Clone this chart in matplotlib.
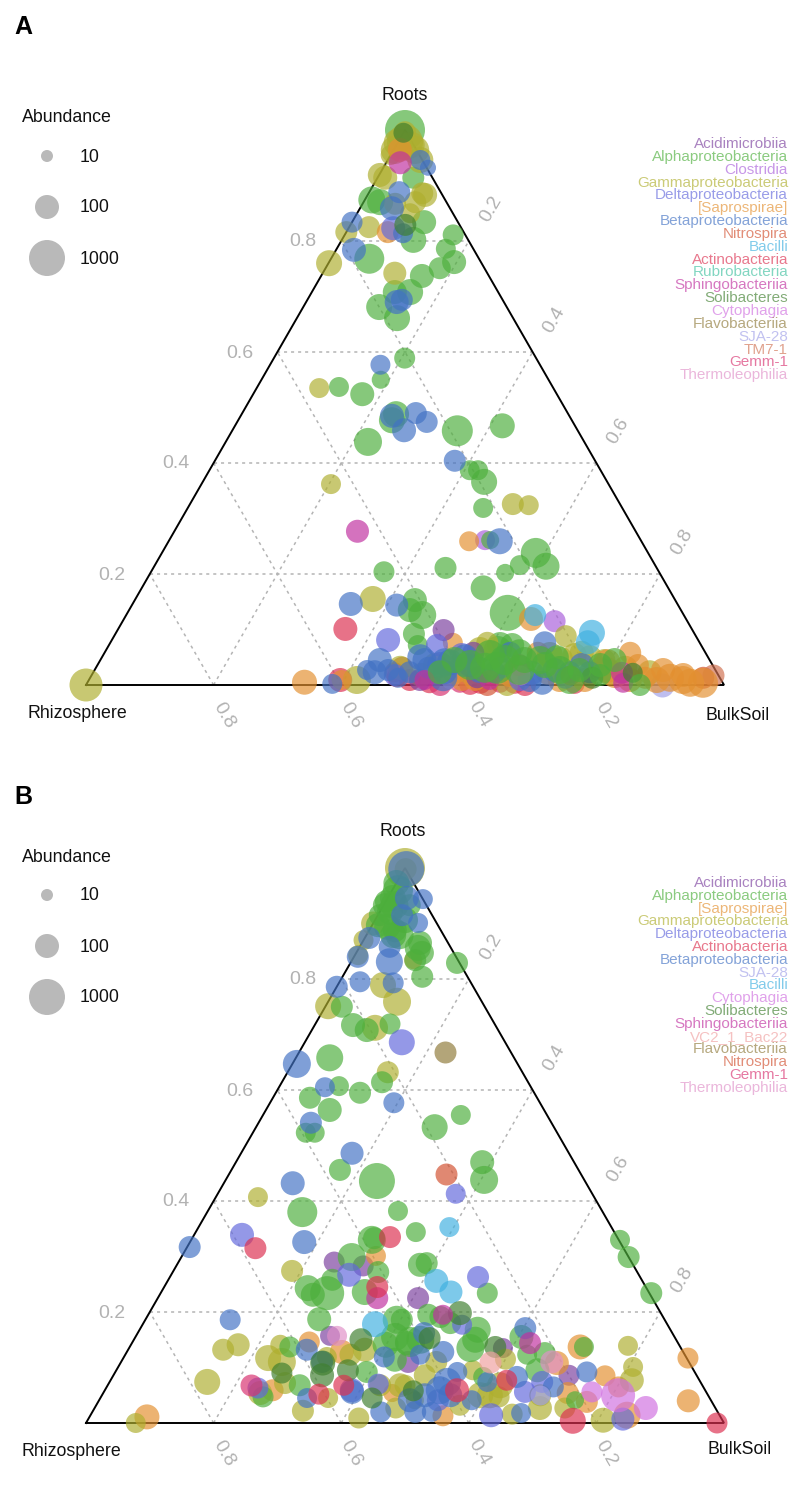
import math
import matplotlib
matplotlib.use("Agg")
import matplotlib.pyplot as plt

plt.rcParams['font.family'] = ['Liberation Sans', 'DejaVu Sans']

TICKS = [0.2, 0.4, 0.6, 0.8]
SIZE_LEVELS = [10, 100, 1000]

COLORS = {
    "Acidimicrobiia": "#7B3F9E", "Alphaproteobacteria": "#4DAF3C", "Clostridia": "#A95FDB",
    "Gammaproteobacteria": "#AFAF2F", "Deltaproteobacteria": "#6268DC", "[Saprospirae]": "#E39030",
    "Betaproteobacteria": "#4272C4", "Nitrospira": "#D2502F", "Bacilli": "#40B0E0",
    "Actinobacteria": "#DC3050", "Rubrobacteria": "#40C0A0", "Sphingobacteriia": "#C030A0",
    "Solibacteres": "#3F7F2F", "Cytophagia": "#D070E0", "Flavobacteriia": "#8F7A3A",
    "SJA-28": "#A0A0E8", "TM7-1": "#D07050", "Gemm-1": "#D8306F", "Thermoleophilia": "#E090C8",
    "VC2_1_Bac22": "#F0A0A0",
}

# ---------- Panel A: roots fraction, bulk-soil fraction, abundance ----------
A_acidi_r = [.099, .058, .014, .009, .036]
A_acidi_b = [.511, .578, .606, .519, .584]
A_acidi_n = [68, 68, 68, 68, 100]

A_alpha_r = [1.0, .874, .870, .834, .802, .811, .786, .762, .751, .737, .708, .708, .681, .661, .768, .914, .589, .550, .537, .524, .488, .477, .438, .458, .467, .387, .387, .366, .319, .261, .238, .214, .216, .202, .175, .211, .204, .153, .126, .135, .092, .072, .130, .072, .072, .031, .031, .050, .009, .018, 0.0,
             .023, .045, .036, .054, .045, .045, .036, .027, .027, .036, .045, .027, .063, .059, .045]
A_alpha_b = [0.0, .011, .026, .113, .112, .170, .171, .196, .179, .158, .154, .130, .119, .157, .060, .056, .205, .187, .128, .171, .242, .241, .223, .353, .419, .408, .421, .441, .463, .503, .586, .614, .572, .556, .535, .458, .365, .439, .464, .440, .468, .484, .596, .613, .632, .629, .610, .713, .754, .797, .868,
             .543, .555, .584, .606, .634, .665, .701, .729, .760, .788, .806, .666, .614, .650, .689]
A_alpha_n = [2154, 178, 147, 100, 147, 56, 46, 100, 68, 100, 147, 100, 147, 147, 316, 68, 56, 32, 46, 100, 147, 147, 215, 383, 121, 46, 46, 147, 46, 32, 316, 178, 46, 32, 121, 68, 56, 100, 215, 100, 68, 46, 1000, 147, 100, 464, 316, 100, 215, 68, 68,
             100, 147, 316, 316, 316, 147, 147, 215, 100, 100, 100, 316, 215, 147, 215]

A_clost_r = [.115, .261]
A_clost_b = [.677, .495]
A_clost_n = [68, 46]

A_gamma_r = [.760, .742, .816, .825, .919, .955, .978, .977, .973, .996, .867, .886, .870, .850, .535, .362, .326, .324, .155, 0.0, .009, .018, .076, 0.0, .047, .050, .088, .045, .031,
             .914, .964, .964, .946, .883, .031, .036, .023, .023, .054, .054, .023, .031, .023, .058, .063]
A_gamma_b = [.001, .113, 0.0, .031, .001, 0.0, .011, 0.0, .024, .002, .051, .084, .081, .083, .098, .203, .506, .532, .372, 0.0, .420, .516, .591, .660, .721, .765, .708, .790, .790,
             .012, .002, .034, .051, .090, .477, .529, .590, .660, .700, .739, .809, .830, .872, .748, .586]
A_gamma_n = [147, 83, 68, 68, 100, 46, 1000, 215, 147, 68, 68, 68, 68, 46, 46, 46, 68, 46, 147, 562, 215, 100, 68, 68, 100, 100, 68, 68, 68,
             100, 215, 215, 147, 100, 100, 100, 100, 100, 147, 100, 147, 100, 100, 100, 147]

A_delta_r = [.823, .081, .072, .054, .022, .009, .018, .036, .031, .013]
A_delta_b = [.070, .433, .514, .562, .688, .676, .475, .537, .634, .745]
A_delta_n = [100, 100, 68, 100, 100, 68, 68, 147, 68, 68]

A_sapro_r = [.816, .964, .259, .119, .076, .058, .022, .009, .005, .009, .027, .058, .036, .009, .027, .009, .018, .004, .013,
             .023, .009, .018, .009, .009, .018, .009, .013, .004, .041]
A_sapro_b = [.065, .010, .471, .638, .537, .679, .713, .585, .340, .396, .803, .824, .847, .890, .891, .931, .927, .965, .870,
             .566, .605, .656, .738, .777, .820, .848, .909, .945, .797]
A_sapro_n = [68, 100, 46, 100, 46, 68, 100, 68, 121, 46, 147, 68, 68, 147, 100, 215, 100, 316, 68,
             100, 68, 100, 100, 100, 147, 100, 215, 215, 147]

A_beta_r = [.834, .784, .888, .690, .694, .932, .946, .814, .859, .577, .485, .490, .459, .474, .404, .259, .146, .144, .076, .058, .036, .023, .014, .004, .013, .002, .027, .023, .027, .031, .036, .009,
            .023, .045, .041, .027, .023, .027, .023, .023, .050, .041, .050, .045]
A_beta_b = [0.0, .028, .047, .142, .148, .070, .051, .090, .050, .173, .237, .272, .269, .297, .376, .519, .342, .415, .681, .636, .759, .551, .553, .713, .483, .385, .427, .441, .460, .521, .576, .691,
            .496, .508, .550, .604, .629, .721, .747, .778, .499, .542, .569, .438]
A_beta_n = [56, 100, 68, 100, 68, 22, 46, 46, 100, 46, 100, 68, 100, 68, 68, 147, 100, 83, 83, 68, 100, 100, 215, 100, 46, 46, 46, 100, 68, 68, 100, 100,
            68, 100, 147, 147, 68, 100, 68, 68, 147, 215, 147, 100]

A_nitro_r = [.013, .031, 0.0, .023]
A_nitro_b = [.961, .480, .629, .472]
A_nitro_n = [68, 68, 68, 46]

A_bacilli_r = [.094, .077, .126]
A_bacilli_b = [.746, .748, .641]
A_bacilli_n = [147, 100, 68]

A_actino_r = [.101, .009, 0.0, .014, .004, .002, .009, .005, .002, .004]
A_actino_b = [.356, .394, .688, .480, .616, .765, .503, .536, .601, .670]
A_actino_n = [100, 100, 68, 46, 68, 46, 68, 68, 68, 68]

A_rubro_r = [.027]
A_rubro_b = [.654]
A_rubro_n = [46]

A_sphingo_r = [.941, .277, .036, .022, .004, .009, .009]
A_sphingo_b = [.022, .287, .661, .829, .840, .526, .628]
A_sphingo_n = [83, 83, 68, 68, 46, 46, 46]

A_soli_r = [.995, .829, .013, .022]
A_soli_b = [0.0, .086, .787, .846]
A_soli_n = [46, 68, 68, 46]

A_cyto_r = [.018]
A_cyto_b = [.671]
A_cyto_n = [46]

A_flavo_r = [.018]
A_flavo_b = [.750]
A_flavo_n = [46]

A_sja_r = [0.0]
A_sja_b = [.903]
A_sja_n = [100]

A_tm7_r = [.018]
A_tm7_b = [.974]
A_tm7_n = [68]

A_gemm_r = [0.0, .004, .004]
A_gemm_b = [.555, .647, .584]
A_gemm_n = [68, 46, 46]

A_thermo_r = [.009]
A_thermo_b = [.566]
A_thermo_n = [32]

# ---------- Panel B ----------
B_acidi_r = [.290, .283, .225, .157, .110, .135, .086]
B_acidi_b = [.244, .293, .408, .304, .450, .586, .714]
B_acidi_n = [56, 56, 68, 46, 68, 46, 56]

B_alpha_r = [.973, .940, .946, .921, .915, .894, .888, .879, .865, .847, .856, .829, .804, .750, .717, .708, .719, .658, .614, .607, .586, .595, .564, .523, .523, .555, .533, .456, .470, .438, .436, .380, .382, .333, .344, .285, .288, .234, .243, .234, .231, .258, .299, .330, .272, .236, .187, .186, .155, .144, .195, .186, .191, .180, .146, .168, .150, .135, .155, .123, .126, .137, .330, .299, .234, .095, .083, .041, .137, .047, .068, .092,
             .960, .933, .906, .933, .879, .897, .933, .834, .114, .150, .141]
B_alpha_b = [0.0, 0.0, .008, .016, .003, .025, .040, .042, .091, .103, .092, .167, .125, .026, .060, .086, .117, .053, .157, .093, .058, .132, .100, .083, .097, .310, .280, .170, .386, .405, .238, .149, .298, .285, .345, .381, .390, .512, .226, .261, .240, .257, .267, .283, .322, .319, .272, .394, .407, .431, .439, .402, .460, .481, .435, .530, .535, .535, .605, .630, .656, .712, .672, .701, .769, .660, .581, .746, .251, .254, .301, .394,
             .009, .017, .047, .002, .052, .009, .041, .099, .427, .449, .399]
B_alpha_n = [147, 68, 147, 147, 68, 147, 100, 147, 100, 100, 147, 68, 68, 68, 100, 100, 56, 178, 68, 46, 68, 68, 100, 46, 46, 46, 147, 68, 100, 215, 1000, 316, 46, 68, 46, 100, 68, 56, 147, 681, 100, 68, 215, 215, 68, 147, 100, 215, 215, 100, 68, 68, 68, 68, 316, 147, 147, 215, 100, 46, 68, 46, 46, 68, 68, 100, 46, 32, 56, 56, 68, 68,
             316, 215, 147, 100, 215, 100, 68, 68, 100, 215, 147]

B_sapro_r = [.834, .301, .011, .146, .128, .059, .054, .013, .137, .117, .040, .085, .108, .038, .054, .065, .014]
B_sapro_b = [.096, .304, .090, .277, .337, .263, .453, .553, .706, .885, .924, .771, .684, .766, .728, .802, .841]
B_sapro_n = [32, 46, 121, 56, 100, 68, 32, 56, 121, 56, 83, 56, 100, 68, 68, 56, 178]

B_gamma_r = [1.0, .998, .751, .843, .789, .759, .712, .632, .900, .870, .407, .274, .132, .141, .074, 0.0, .117, .141, .110, .119, .054, .072, .022, .045, .009, .027, .068, .086, .110, .032, .095, .047, .115, .027, .016, .027, .005, .139, .101, .077, .041,
             .068, .068, .132, .123, .068, .050, .050, .050]
B_gamma_b = [0.0, .002, .004, .005, .071, .108, .097, .157, 0.0, 0.0, .066, .186, .149, .168, .153, .078, .227, .234, .252, .318, .246, .276, .329, .357, .423, .472, .466, .488, .494, .570, .559, .624, .600, .698, .660, .737, .808, .780, .807, .817, .495,
             .458, .427, .371, .353, .615, .608, .593, .687]
B_gamma_n = [2154, 68, 147, 46, 147, 215, 147, 68, 100, 46, 46, 68, 68, 83, 147, 46, 147, 46, 215, 46, 100, 68, 68, 46, 56, 56, 56, 68, 68, 56, 46, 56, 56, 100, 56, 56, 121, 46, 46, 100, 32,
             100, 68, 100, 68, 147, 147, 147, 68]

B_delta_r = [.686, .413, .339, .267, .063, .059, .070, .177, .263, .041, .014, .056, .074, .007]
B_delta_b = [.152, .373, .075, .279, .238, .387, .423, .501, .483, .531, .628, .660, .678, .838]
B_delta_n = [147, 46, 100, 100, 56, 100, 56, 46, 68, 68, 100, 68, 68, 83]

B_actino_r = [.335, .315, .245, .052, .068, .077, .059, .004, 0.0]
B_actino_b = [.309, .108, .334, .339, .370, .621, .552, .761, .989]
B_actino_n = [68, 68, 68, 56, 56, 56, 100, 147, 56]

B_beta_r = [.998, .946, .944, .915, .901, .874, .858, .840, .831, .786, .795, .793, .647, .605, .577, .541, .486, .432, .317, .326, .186, .132, .110, .045, .056, .119, .020, .020, .162, .171, .128, .123, .074, .092, .020, .041, .074, .083, .018, .065, .092,
            .059, .050, .041, .050]
B_beta_b = [.003, .030, .056, .038, .070, .007, .047, .006, .060, 0.0, .032, .085, .007, .072, .194, .082, .174, .108, .004, .179, .133, .280, .315, .324, .389, .408, .452, .506, .449, .603, .496, .462, .529, .536, .532, .584, .592, .634, .673, .700, .739,
            .525, .506, .487, .546]
B_beta_n = [1000, 100, 46, 68, 46, 68, 68, 68, 178, 68, 56, 56, 215, 46, 56, 68, 83, 100, 68, 100, 56, 68, 68, 46, 100, 56, 56, 68, 68, 68, 68, 46, 215, 46, 46, 46, 46, 68, 46, 56, 56,
            215, 100, 100, 100]

B_sja_r = [.050]
B_sja_b = [.687]
B_sja_n = [46]

B_bacilli_r = [.353, .178, .256, .236]
B_bacilli_b = [.393, .364, .421, .454]
B_bacilli_n = [46, 147, 100, 83]

B_cyto_r = [.056, .050, .027]
B_cyto_b = [.765, .809, .864]
B_cyto_n = [56, 681, 100]

B_soli_r = [.150, .108, .086, .095, .090, .045, .058, .153, .198, .137]
B_soli_b = [.356, .317, .327, .363, .262, .426, .484, .462, .487, .573]
B_soli_n = [83, 121, 100, 68, 56, 56, 56, 68, 100, 68]

B_sphingo_r = [.225, .195, .144]
B_sphingo_b = [.344, .462, .624]
B_sphingo_n = [68, 46, 68]

B_vc2_r = [.110]
B_vc2_b = [.578]
B_vc2_n = [68]

B_flavo_r = [.668]
B_flavo_b = [.229]
B_flavo_n = [68]

B_nitro_r = [.449]
B_nitro_b = [.340]
B_nitro_n = [68]

B_gemm_r = [.068]
B_gemm_b = [.225]
B_gemm_n = [68]

B_thermo_r = [.157, .110]
B_thermo_b = [.315, .675]
B_thermo_n = [46, 83]

# legend order of each panel
SERIES_A = [
    ("Acidimicrobiia", A_acidi_r, A_acidi_b, A_acidi_n),
    ("Alphaproteobacteria", A_alpha_r, A_alpha_b, A_alpha_n),
    ("Clostridia", A_clost_r, A_clost_b, A_clost_n),
    ("Gammaproteobacteria", A_gamma_r, A_gamma_b, A_gamma_n),
    ("Deltaproteobacteria", A_delta_r, A_delta_b, A_delta_n),
    ("[Saprospirae]", A_sapro_r, A_sapro_b, A_sapro_n),
    ("Betaproteobacteria", A_beta_r, A_beta_b, A_beta_n),
    ("Nitrospira", A_nitro_r, A_nitro_b, A_nitro_n),
    ("Bacilli", A_bacilli_r, A_bacilli_b, A_bacilli_n),
    ("Actinobacteria", A_actino_r, A_actino_b, A_actino_n),
    ("Rubrobacteria", A_rubro_r, A_rubro_b, A_rubro_n),
    ("Sphingobacteriia", A_sphingo_r, A_sphingo_b, A_sphingo_n),
    ("Solibacteres", A_soli_r, A_soli_b, A_soli_n),
    ("Cytophagia", A_cyto_r, A_cyto_b, A_cyto_n),
    ("Flavobacteriia", A_flavo_r, A_flavo_b, A_flavo_n),
    ("SJA-28", A_sja_r, A_sja_b, A_sja_n),
    ("TM7-1", A_tm7_r, A_tm7_b, A_tm7_n),
    ("Gemm-1", A_gemm_r, A_gemm_b, A_gemm_n),
    ("Thermoleophilia", A_thermo_r, A_thermo_b, A_thermo_n),
]
SERIES_B = [
    ("Acidimicrobiia", B_acidi_r, B_acidi_b, B_acidi_n),
    ("Alphaproteobacteria", B_alpha_r, B_alpha_b, B_alpha_n),
    ("[Saprospirae]", B_sapro_r, B_sapro_b, B_sapro_n),
    ("Gammaproteobacteria", B_gamma_r, B_gamma_b, B_gamma_n),
    ("Deltaproteobacteria", B_delta_r, B_delta_b, B_delta_n),
    ("Actinobacteria", B_actino_r, B_actino_b, B_actino_n),
    ("Betaproteobacteria", B_beta_r, B_beta_b, B_beta_n),
    ("SJA-28", B_sja_r, B_sja_b, B_sja_n),
    ("Bacilli", B_bacilli_r, B_bacilli_b, B_bacilli_n),
    ("Cytophagia", B_cyto_r, B_cyto_b, B_cyto_n),
    ("Solibacteres", B_soli_r, B_soli_b, B_soli_n),
    ("Sphingobacteriia", B_sphingo_r, B_sphingo_b, B_sphingo_n),
    ("VC2_1_Bac22", B_vc2_r, B_vc2_b, B_vc2_n),
    ("Flavobacteriia", B_flavo_r, B_flavo_b, B_flavo_n),
    ("Nitrospira", B_nitro_r, B_nitro_b, B_nitro_n),
    ("Gemm-1", B_gemm_r, B_gemm_b, B_gemm_n),
    ("Thermoleophilia", B_thermo_r, B_thermo_b, B_thermo_n),
]

# paint order, bottom to top
DRAW_A = ["Actinobacteria", "Gemm-1", "Nitrospira", "Thermoleophilia", "Rubrobacteria", "TM7-1", "SJA-28",
          "Clostridia", "Alphaproteobacteria", "Gammaproteobacteria", "[Saprospirae]", "Acidimicrobiia",
          "Deltaproteobacteria", "Betaproteobacteria", "Sphingobacteriia", "Solibacteres", "Bacilli",
          "Cytophagia", "Flavobacteriia"]
DRAW_B = ["Acidimicrobiia", "[Saprospirae]", "Gammaproteobacteria", "Alphaproteobacteria",
          "Deltaproteobacteria", "Betaproteobacteria", "SJA-28", "Bacilli", "Cytophagia", "Solibacteres",
          "Sphingobacteriia", "VC2_1_Bac22", "Flavobacteriia", "Nitrospira", "Gemm-1", "Thermoleophilia",
          "Actinobacteria"]

W, H = 800, 1507
DPI = 100
fig = plt.figure(figsize=(W / DPI, H / DPI), dpi=DPI)
overlay = fig.add_axes([0, 0, 1, 1], zorder=5)
overlay.set_xlim(0, W)
overlay.set_ylim(H, 0)
overlay.axis("off")
overlay.patch.set_alpha(0)


def area(n):
    d_px = 12 * math.log10(n)
    return (d_px * 72 / DPI) ** 2


def tx(roots, bulk):
    return bulk + roots / 2


def draw_panel(series, order, late_below, top, bottom, letter, letter_y, abund_y, circle_ys, leg_y0,
               leg_step, roots_xy, rhizo_xy, bulk_xy):
    left, right = 86, 724
    ax = fig.add_axes([left / W, 1 - bottom / H, (right - left) / W, (bottom - top) / H])
    ax.set_xlim(0, 1)
    ax.set_ylim(0, 1)
    ax.axis("off")
    grid = dict(color="#b4b4b4", lw=1.1, ls=(0, (2, 2.6)), zorder=1, clip_on=False)
    for v in TICKS:
        ax.plot([tx(v, 0), tx(v, 1 - v)], [v, v], **grid)
        ax.plot([tx(0, v), tx(1 - v, v)], [0, 1 - v], **grid)
        ax.plot([tx(0, 1 - v), tx(1 - v, 0)], [0, 1 - v], **grid)
    ax.plot([0, 1, 0.5, 0], [0, 0, 1, 0], color="black", lw=1.4, zorder=2, clip_on=False,
            solid_joinstyle="miter")
    by_name = {s[0]: s for s in series}

    def dots(name, rows, z):
        if rows:
            ax.scatter([tx(ri, bi) for ri, bi, _ in rows], [ri for ri, _, _ in rows],
                       s=[area(k) for _, _, k in rows], color=COLORS[name], alpha=0.68,
                       linewidths=0, zorder=z, clip_on=False)

    for i, name in enumerate(order):
        _, r, b, n = by_name[name]
        rows = list(zip(r, b, n))
        if name == "Alphaproteobacteria":
            # the low-roots Alphaproteobacteria lie on top of the crowded bottom band
            dots(name, [row for row in rows if row[0] >= late_below], 3 + i * 0.01)
            dots(name, [row for row in rows if row[0] < late_below], 3.5)
        else:
            dots(name, rows, 3 + i * 0.01)
    tick_style = dict(color="#b2b2b2", fontsize=14, ha="center", va="center",
                      textcoords="offset pixels", xycoords="data")
    for v in TICKS:
        ax.annotate(f"{v:.1f}", (tx(v, 0), v), xytext=(-38, -1), **tick_style)
        ax.annotate(f"{v:.1f}", (tx(1 - v, v), 1 - v), xytext=(22, 32), rotation=60, **tick_style)
        ax.annotate(f"{v:.1f}", (1 - v, 0), xytext=(10, -30), rotation=-60, **tick_style)

    overlay.text(14, letter_y, letter, fontsize=18, fontweight="bold", va="center", ha="left")
    overlay.text(22, abund_y + 1, "Abundance", fontsize=12.8, va="center", ha="left", color="#111111")
    overlay.scatter([47] * 3, circle_ys, s=[area(k) for k in SIZE_LEVELS], color="#b9b9b9", linewidths=0)
    for k, y in zip(SIZE_LEVELS, circle_ys):
        overlay.text(80, y + 1, str(k), fontsize=12.8, va="center", ha="left", color="#111111")
    for i, (name, *_rest) in enumerate(series):
        overlay.text(788, leg_y0 + i * leg_step + 1, name, fontsize=11, ha="right", va="center",
                     color=COLORS[name], alpha=0.65)
    overlay.text(roots_xy[0], roots_xy[1] + 1, "Roots", fontsize=12.8, ha="center", va="center", color="#111111")
    overlay.text(rhizo_xy[0], rhizo_xy[1] + 1, "Rhizosphere", fontsize=12.8, ha="center", va="center", color="#111111")
    overlay.text(bulk_xy[0], bulk_xy[1] + 1, "BulkSoil", fontsize=12.8, ha="center", va="center", color="#111111")


draw_panel(SERIES_A, DRAW_A, 0.06, 130, 685, "A", 27, 117, [156, 207, 258], 143, 12.85,
           (405, 95), (77, 712), (738, 714))
draw_panel(SERIES_B, DRAW_B, 0.0, 868, 1423, "B", 797, 857, [895, 946, 997], 882, 12.8,
           (403, 831), (71, 1451), (740, 1449))

fig.savefig("out.png", dpi=DPI, facecolor="white")
